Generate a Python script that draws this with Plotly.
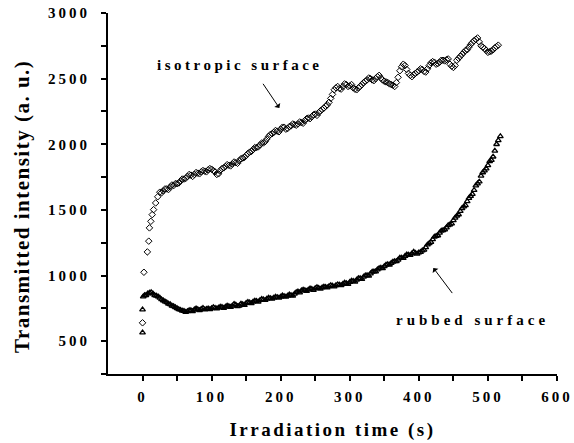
import plotly.graph_objects as go

# ---------------- Isotropic surface (open diamonds) ----------------
t_iso = [0, 2, 7, 9, 10, 12, 14, 16, 19, 22,
         25, 30, 35, 40, 45, 50, 55, 60, 65, 70,
         75, 80, 85, 90, 95, 100, 105, 110, 115, 120,
         125, 130, 135, 140, 145, 150, 155, 160, 165, 170,
         175, 180, 185, 190, 195, 200, 205, 210, 215, 220,
         225, 230, 235, 240, 245, 250, 255, 260, 265, 270,
         275, 280, 285, 290, 295, 300, 305, 310, 315, 320,
         325, 330, 335, 340, 345, 350, 355, 360, 365, 370,
         375, 380, 385, 390, 395, 400, 405, 410, 415, 420,
         425, 430, 435, 440, 445, 450, 455, 460, 465, 470,
         475, 480, 485, 490, 495, 500, 505, 510, 515]
v_iso = [640, 1025, 1180, 1262, 1363, 1413, 1464, 1502, 1553, 1600,
         1635, 1645, 1660, 1675, 1685, 1700, 1720, 1735, 1755, 1765,
         1770, 1780, 1790, 1795, 1805, 1810, 1790, 1775, 1815, 1830,
         1840, 1850, 1860, 1875, 1895, 1915, 1940, 1960, 1975, 1995,
         2010, 2040, 2075, 2090, 2100, 2115, 2130, 2120, 2140, 2150,
         2155, 2165, 2180, 2200, 2210, 2230, 2240, 2265, 2290, 2320,
         2380, 2430, 2425, 2440, 2455, 2445, 2430, 2415, 2440, 2470,
         2490, 2500, 2485, 2515, 2505, 2480, 2470, 2455, 2440, 2510,
         2590, 2600, 2540, 2515, 2540, 2560, 2570, 2550, 2600, 2630,
         2610, 2625, 2640, 2645, 2610, 2585, 2640, 2670, 2700, 2720,
         2760, 2790, 2810, 2750, 2730, 2700, 2710, 2735, 2755]
# intermediate readings
t_iso_b = [27.5, 32.5, 37.5, 42.5, 47.5, 52.5, 57.5, 62.5, 67.5, 72.5,
           77.5, 82.5, 87.5, 92.5, 97.5, 102.5, 107.5, 112.5, 117.5, 122.5,
           127.5, 132.5, 137.5, 142.5, 147.5, 152.5, 157.5, 162.5, 167.5, 172.5,
           177.5, 182.5, 187.5, 192.5, 197.5, 202.5, 207.5, 212.5, 217.5, 222.5,
           227.5, 232.5, 237.5, 242.5, 247.5, 252.5, 257.5, 262.5, 267.5, 272.5,
           277.5, 282.5, 287.5, 292.5, 297.5, 302.5, 307.5, 312.5, 317.5, 322.5,
           327.5, 332.5, 337.5, 342.5, 347.5, 352.5, 357.5, 362.5, 367.5, 372.5,
           377.5, 382.5, 387.5, 392.5, 397.5, 402.5, 407.5, 412.5, 417.5, 422.5,
           427.5, 432.5, 437.5, 442.5, 447.5, 452.5, 457.5, 462.5, 467.5, 472.5,
           477.5, 482.5, 487.5, 492.5, 497.5, 502.5, 507.5, 512.5]
v_iso_b = [1630, 1660, 1655, 1690, 1700, 1705, 1735, 1740, 1770, 1755,
           1785, 1775, 1800, 1790, 1815, 1800, 1770, 1800, 1820, 1845,
           1835, 1865, 1855, 1890, 1900, 1930, 1945, 1975, 1980, 2010,
           2020, 2060, 2080, 2105, 2095, 2130, 2115, 2135, 2155, 2145,
           2170, 2160, 2195, 2195, 2225, 2220, 2255, 2275, 2300, 2350,
           2415, 2440, 2420, 2460, 2440, 2455, 2420, 2430, 2455, 2480,
           2505, 2490, 2500, 2525, 2490, 2475, 2460, 2450, 2470, 2560,
           2610, 2570, 2525, 2530, 2550, 2575, 2555, 2575, 2620, 2625,
           2615, 2640, 2635, 2650, 2595, 2600, 2655, 2685, 2715, 2740,
           2775, 2800, 2780, 2740, 2715, 2705, 2720, 2745]

# ---------------- Rubbed surface (open triangles) ----------------
t_rub = [0, 0, 1, 3,
         5, 10, 15, 20, 25, 30, 35, 40, 45, 50,
         55, 60, 65, 70, 75, 80, 85, 90, 95, 100,
         105, 110, 115, 120, 125, 130, 135, 140, 145, 150,
         155, 160, 165, 170, 175, 180, 185, 190, 195, 200,
         205, 210, 215, 220, 225, 230, 235, 240, 245, 250,
         255, 260, 265, 270, 275, 280, 285, 290, 295, 300,
         305, 310, 315, 320, 325, 330, 335, 340, 345, 350,
         355, 360, 365, 370, 375, 380, 385, 390, 395, 400,
         405, 410, 415, 420, 425, 430, 435, 440, 445, 450,
         455, 460, 465, 470, 475, 480, 485, 490, 495, 500,
         505, 510, 515, 518]
v_rub = [565, 740, 840, 850,
         850, 868, 862, 845, 830, 810, 795, 780, 765, 750,
         738, 730, 728, 735, 740, 742, 745, 740, 748, 750,
         752, 755, 760, 762, 765, 770, 778, 770, 780, 790,
         795, 800, 805, 812, 818, 822, 826, 830, 835, 838,
         842, 845, 850, 860, 878, 885, 888, 892, 898, 902,
         905, 908, 912, 918, 922, 925, 930, 935, 940, 950,
         958, 968, 978, 990, 1002, 1015, 1030, 1045, 1058, 1070,
         1085, 1095, 1108, 1120, 1135, 1148, 1158, 1168, 1172, 1175,
         1190, 1215, 1245, 1275, 1300, 1325, 1345, 1365, 1388, 1420,
         1455, 1490, 1525, 1565, 1605, 1650, 1700, 1760, 1800, 1840,
         1880, 1950, 2030, 2060]
# intermediate readings
t_rub_b = [7.5, 12.5, 17.5, 22.5, 27.5, 32.5, 37.5, 42.5, 47.5, 52.5,
           57.5, 62.5, 67.5, 72.5, 77.5, 82.5, 87.5, 92.5, 97.5, 102.5,
           107.5, 112.5, 117.5, 122.5, 127.5, 132.5, 137.5, 142.5, 147.5, 152.5,
           157.5, 162.5, 167.5, 172.5, 177.5, 182.5, 187.5, 192.5, 197.5, 202.5,
           207.5, 212.5, 217.5, 222.5, 227.5, 232.5, 237.5, 242.5, 247.5, 252.5,
           257.5, 262.5, 267.5, 272.5, 277.5, 282.5, 287.5, 292.5, 297.5, 302.5,
           307.5, 312.5, 317.5, 322.5, 327.5, 332.5, 337.5, 342.5, 347.5, 352.5,
           357.5, 362.5, 367.5, 372.5, 377.5, 382.5, 387.5, 392.5, 397.5, 402.5,
           407.5, 412.5, 417.5, 422.5, 427.5, 432.5, 437.5, 442.5, 447.5, 452.5,
           457.5, 462.5, 467.5, 472.5, 477.5, 482.5, 487.5, 492.5, 497.5, 502.5,
           507.5, 512.5]
v_rub_b = [862, 872, 850, 840, 818, 802, 785, 770, 758, 742,
           732, 722, 735, 728, 748, 735, 752, 745, 742, 758,
           748, 762, 752, 770, 760, 782, 765, 785, 775, 798,
           788, 808, 800, 820, 812, 830, 822, 838, 830, 848,
           838, 855, 845, 872, 870, 892, 882, 900, 890, 910,
           898, 915, 908, 925, 915, 932, 925, 945, 935, 960,
           952, 978, 972, 1000, 998, 1028, 1030, 1055, 1055, 1082,
           1082, 1105, 1108, 1135, 1132, 1160, 1155, 1180, 1165, 1178,
           1195, 1235, 1255, 1295, 1305, 1340, 1350, 1382, 1395, 1440,
           1465, 1512, 1535, 1590, 1620, 1685, 1715, 1785, 1815, 1870,
           1905, 2000]

x_tickvals = [0, 50, 100, 150, 200, 250, 300, 350, 400, 450, 500, 550, 600]
x_ticklabels = ["0", "", "100", "", "200", "", "300", "", "400", "", "500", "", "600"]
y_tickvals = [250, 500, 750, 1000, 1250, 1500, 1750, 2000, 2250, 2500, 2750, 3000]
y_ticklabels = ["", "500", "", "1000", "", "1500", "", "2000", "", "2500", "", "3000"]

FONT = "Liberation Serif"


def sp(s, ls):
    if not s:
        return s
    return '<span style="letter-spacing:%spx">%s</span>' % (ls, s)


fig = go.Figure()
fig.add_trace(go.Scatter(x=t_iso + t_iso_b, y=v_iso + v_iso_b, mode="markers",
                         name="isotropic surface",
                         marker=dict(symbol="diamond-open", size=5, color="black",
                                     line=dict(width=1, color="black"))))
fig.add_trace(go.Scatter(x=t_rub + t_rub_b, y=v_rub + v_rub_b, mode="markers",
                         name="rubbed surface",
                         marker=dict(symbol="triangle-up-open", size=5, color="black",
                                     line=dict(width=1.3, color="black"))))

axis_common = dict(showline=True, linecolor="black", linewidth=2, ticks="outside",
                   ticklen=5, tickwidth=1.5, tickcolor="black", showgrid=False,
                   zeroline=False, mirror=False, automargin=False,
                   tickfont=dict(family=FONT, size=15, color="black", weight="bold"))

fig.update_xaxes(range=[-50, 600], tickmode="array", tickvals=x_tickvals,
                 ticktext=[sp(s, 3) for s in x_ticklabels], ticklabelstandoff=3,
                 title=dict(text="<b>" + sp("Irradiation time (s)", 2.5) + "</b>",
                            font=dict(family=FONT, size=19, color="black"), standoff=19),
                 **axis_common)
fig.update_yaxes(range=[250, 3000], tickmode="array", tickvals=y_tickvals,
                 ticktext=[sp(s, 3) for s in y_ticklabels], ticklabelstandoff=8,
                 **axis_common)

# y-axis title (placed as rotated text to match the original position)
fig.add_annotation(x=-0.1915, y=0.4626, xref="paper", yref="paper", showarrow=False,
                   textangle=-90, xanchor="center", yanchor="middle",
                   text="<b>" + sp("Transmitted intensity (a. u.)", 1.5) + "</b>",
                   font=dict(family=FONT, size=21, color="black"))

fig.add_annotation(x=140, y=2607, xref="x", yref="y", showarrow=False,
                   text="<b>" + sp("isotropic surface", 3.5) + "</b>",
                   font=dict(family=FONT, size=15, color="black"))
fig.add_annotation(x=198, y=2277, ax=173, ay=2472, xref="x", yref="y", axref="x", ayref="y",
                   text="", showarrow=True, arrowhead=1, arrowsize=1.2, arrowwidth=1,
                   arrowcolor="black")
fig.add_annotation(x=478, y=664, xref="x", yref="y", showarrow=False,
                   text="<b>" + sp("rubbed surface", 4) + "</b>",
                   font=dict(family=FONT, size=15, color="black"))
fig.add_annotation(x=421, y=1058, ax=450, ay=855, xref="x", yref="y", axref="x", ayref="y",
                   text="", showarrow=True, arrowhead=1, arrowsize=1.2, arrowwidth=1,
                   arrowcolor="black")

fig.update_layout(width=574, height=443, margin=dict(l=108, r=17, t=13, b=69),
                  plot_bgcolor="white", paper_bgcolor="white", showlegend=False,
                  font=dict(family=FONT, color="black"))

fig.write_html("out.html", config={"displayModeBar": False},
               post_script="document.body.style.margin='0px';document.body.style.overflow='hidden';")
